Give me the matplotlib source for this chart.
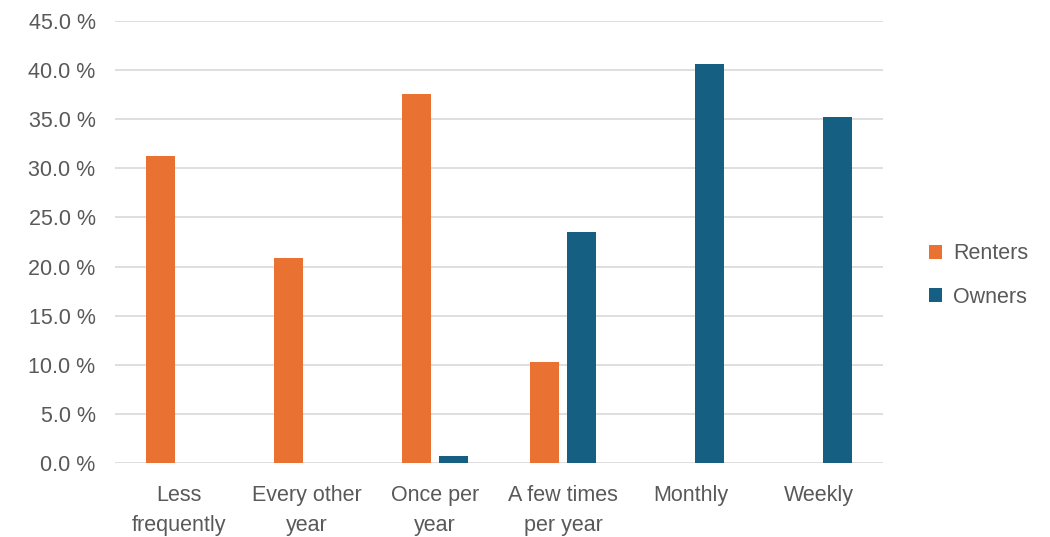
import matplotlib
matplotlib.use("Agg")
import matplotlib.pyplot as plt
import numpy as np
from matplotlib.ticker import FuncFormatter

categories = ["Less\nfrequently", "Every other\nyear", "Once per\nyear",
              "A few times\nper year", "Monthly", "Weekly"]
renters = [31.3, 20.9, 37.6, 10.3, 0, 0]
owners = [0, 0, 0.7, 23.5, 40.6, 35.2]
series_names = ["Renters", "Owners"]
colors = ["#E97132", "#156082"]
yticks = [0, 5, 10, 15, 20, 25, 30, 35, 40, 45]

plt.rcParams['font.family'] = ['Liberation Sans', 'DejaVu Sans']
text_color = "#595959"
fs = 15.5

fig = plt.figure(figsize=(10.5, 5.37), dpi=100)
ax = fig.add_axes([115/1050, 1-463/537, (883-115)/1050, (463-21)/537])

x = np.arange(len(categories))
w = 0.227
off = 0.145
ax.bar(x - off, renters, width=w, color=colors[0], label=series_names[0], zorder=3)
ax.bar(x + off, owners, width=w, color=colors[1], label=series_names[1], zorder=3)

ax.set_xlim(-0.5, len(categories) - 0.5)
ax.set_ylim(0, 45)
ax.set_yticks(yticks)
ax.yaxis.set_major_formatter(FuncFormatter(lambda v, p: f"{v:.1f} %"))
ax.set_xticks(x)
ax.set_xticklabels(categories, linespacing=1.55)
ax.tick_params(axis='both', length=0, labelsize=fs, colors=text_color)
ax.tick_params(axis='x', pad=16)
ax.tick_params(axis='y', pad=14)
ax.grid(axis='y', color='#D9D9D9', linewidth=1.2, zorder=0)
for s in ax.spines.values():
    s.set_visible(False)

leg = ax.legend(loc='center left', bbox_to_anchor=(1.035, 0.424), frameon=False,
                fontsize=fs, handlelength=0.6, handleheight=0.6,
                handletextpad=0.5, labelspacing=1.05)
for t in leg.get_texts():
    t.set_color(text_color)

fig.savefig("out.png", dpi=100, facecolor="white")
